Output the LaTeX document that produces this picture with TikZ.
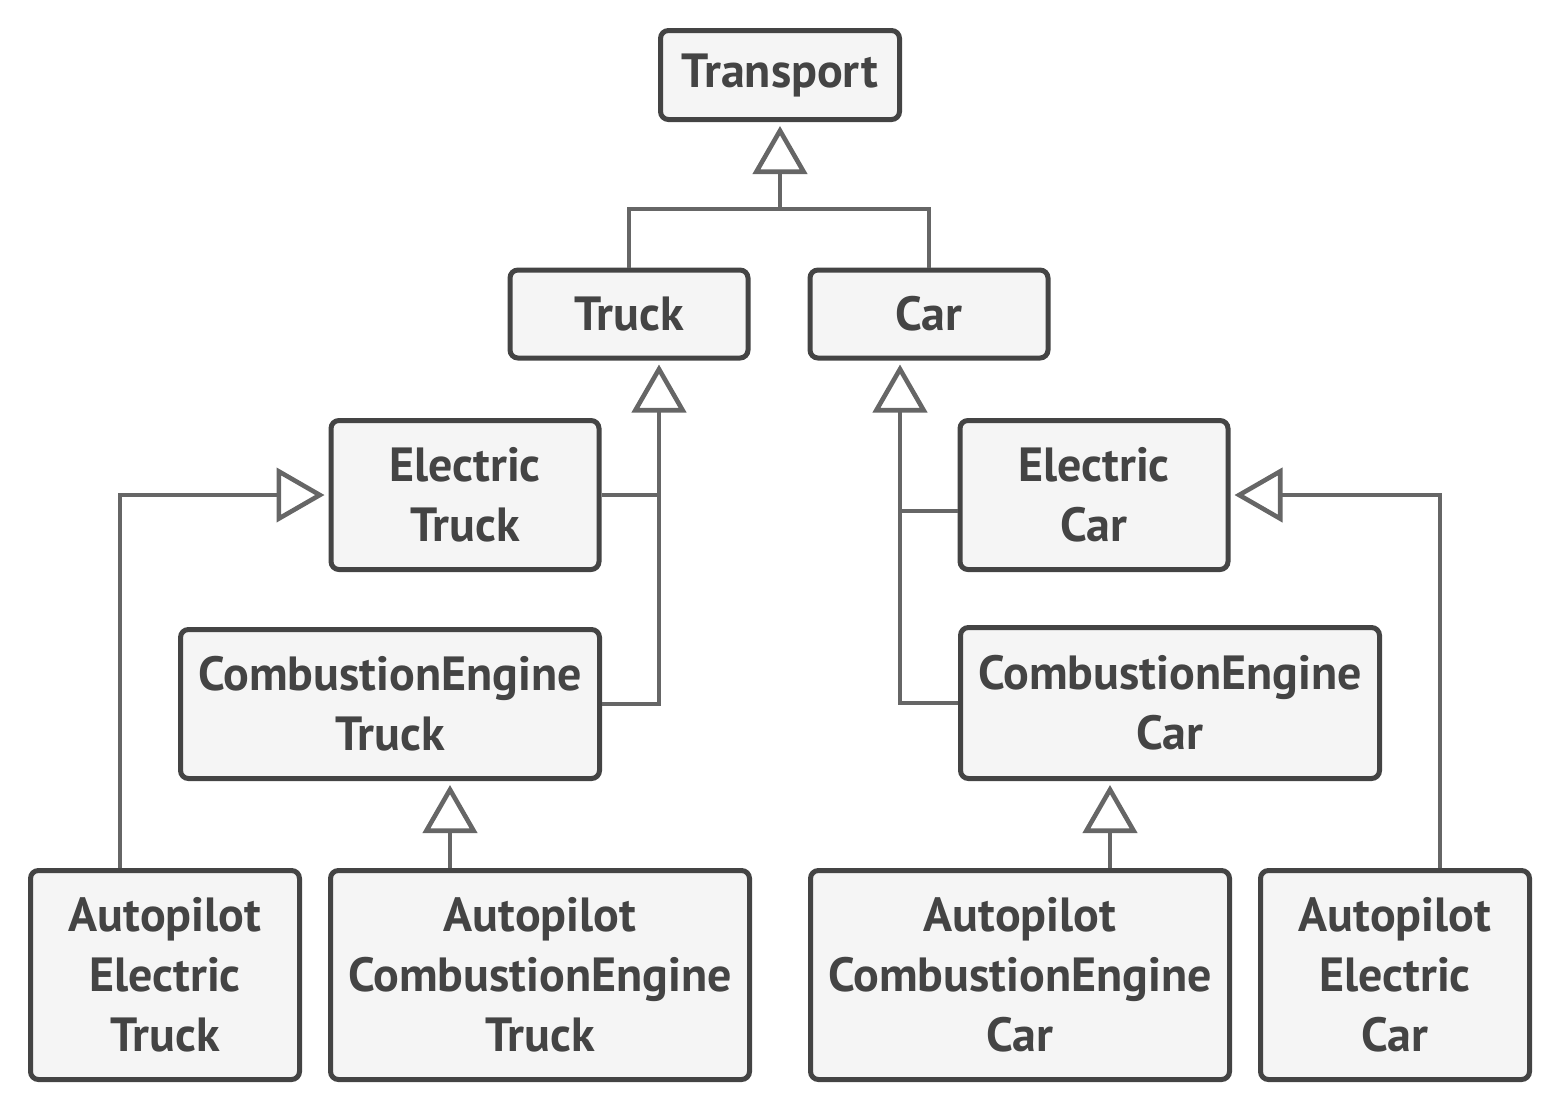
\documentclass[tikz,border=0pt]{standalone}
\usepackage{fontspec}
\setmainfont{PT Sans}
\usetikzlibrary{arrows.meta}
\definecolor{boxline}{HTML}{444444}
\definecolor{boxfill}{HTML}{F5F5F5}
\definecolor{txt}{HTML}{444444}
\definecolor{conncol}{HTML}{666666}
\begin{document}
\begin{tikzpicture}[x=0.5pt,y=-0.5pt,
  cls/.style={draw=boxline, fill=boxfill, line width=2.5pt, rounded corners=4pt,
    inner sep=0pt, align=center, text=txt,
    font=\fontsize{24}{30}\selectfont\bfseries},
  conn/.style={draw=conncol, line width=2.3pt},
  inh/.style={conn, -{Triangle[open, length=24pt, width=27pt]}}
]
\useasboundingbox (0,0) rectangle (1560,1110);
% classes
\node[cls, minimum width=119.5pt, minimum height=44.5pt] (transport) at (780,75) {Transport};
\node[cls, minimum width=119pt, minimum height=44pt] (truck) at (629,314) {Truck};
\node[cls, minimum width=119pt, minimum height=44pt] (car) at (929,314) {Car};
\node[cls, minimum width=134pt, minimum height=74.5pt] (etruck) at (465,495) {Electric\\Truck};
\node[cls, minimum width=134pt, minimum height=74.5pt] (ecar) at (1094,495) {Electric\\Car};
\node[cls, minimum width=209.5pt, minimum height=74.5pt] (cetruck) at (390,704) {CombustionEngine\\Truck};
\node[cls, minimum width=209.5pt, minimum height=75.5pt] (cecar) at (1170,703) {CombustionEngine\\Car};
\node[cls, minimum width=134.5pt, minimum height=104.5pt] (aetruck) at (165,975) {Autopilot\\Electric\\Truck};
\node[cls, minimum width=209.5pt, minimum height=104.5pt] (acetruck) at (540,975) {Autopilot\\CombustionEngine\\Truck};
\node[cls, minimum width=209.5pt, minimum height=104.5pt] (acecar) at (1020,975) {Autopilot\\CombustionEngine\\Car};
\node[cls, minimum width=134.5pt, minimum height=104.5pt] (aecar) at (1395,975) {Autopilot\\Electric\\Car};
% helper coordinates
\coordinate (ttip) at ([yshift=-2pt]transport.south);
\coordinate (tjoin) at (780,209);
\coordinate (trtip) at ([xshift=15pt,yshift=-2pt]truck.south);
\coordinate (catip) at ([xshift=-14.5pt,yshift=-2pt]car.south);
\coordinate (ettip) at ([xshift=-2pt]etruck.west);
\coordinate (ectip) at ([xshift=2pt]ecar.east);
\coordinate (cettip) at ([xshift=30pt,yshift=-2pt]cetruck.south);
\coordinate (cectip) at ([xshift=-30pt,yshift=-2pt]cecar.south);
% Transport hierarchy
\draw[conn] (truck.north) |- (tjoin) -| (car.north);
\draw[inh] (tjoin) -- (ttip);
% Truck hierarchy
\draw[inh] (cetruck.east) -| (trtip);
\draw[conn] (etruck.east) -- (etruck.east -| trtip);
% Car hierarchy
\draw[inh] (cecar.west) -| (catip);
\draw[conn] ([yshift=-8pt]ecar.west) -- ([yshift=-8pt]ecar.west -| catip);
% Electric truck
\draw[inh] ([xshift=-22.5pt]aetruck.north) |- (ettip);
% Electric car
\draw[inh] ([xshift=22.5pt]aecar.north) |- (ectip);
% Combustion engine
\draw[inh] (acetruck.north -| cettip) -- (cettip);
\draw[inh] (acecar.north -| cectip) -- (cectip);
\end{tikzpicture}
\end{document}
